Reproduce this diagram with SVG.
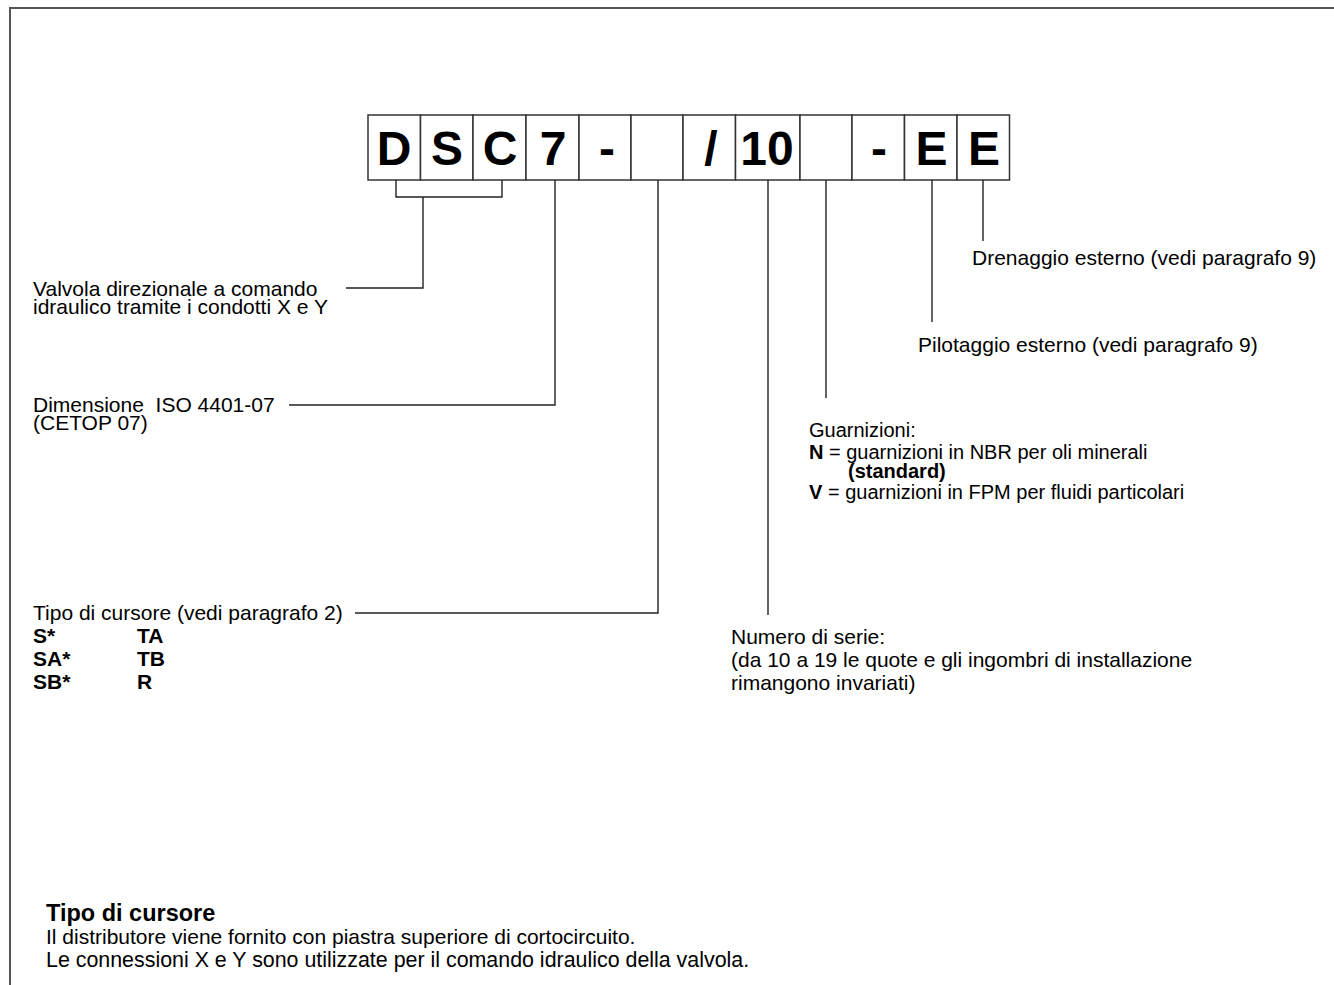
<svg xmlns="http://www.w3.org/2000/svg" width="1334" height="985" viewBox="0 0 1334 985">
<style>
.t{font-family:"Liberation Sans",Arial,sans-serif;font-size:21px;fill:#000}
.s20{font-size:20px}
.b{font-weight:bold}
.code{font-family:"Liberation Sans",Arial,sans-serif;font-size:48px;font-weight:bold;fill:#000;text-anchor:middle}
.box{fill:#fff;stroke:#333;stroke-width:1.5}
.ln{fill:none;stroke:#222;stroke-width:1.4}
.frame{fill:none;stroke:#555;stroke-width:2}
</style>
<rect width="1334" height="985" fill="#fff"/>
<path class="frame" d="M10,985 V8 H1334"/>
<g id="code">
<g id="box-D"><rect class="box" x="368" y="115" width="52.5" height="65"/><text class="code" x="394" y="165">D</text></g>
<g id="box-S"><rect class="box" x="420.5" y="115" width="52.5" height="65"/><text class="code" x="447" y="165">S</text></g>
<g id="box-C"><rect class="box" x="473" y="115" width="53" height="65"/><text class="code" x="500" y="165">C</text></g>
<g id="box-7"><rect class="box" x="526" y="115" width="53" height="65"/><text class="code" x="553" y="165">7</text></g>
<g id="box-dash1"><rect class="box" x="579" y="115" width="52" height="65"/><text class="code" x="607" y="165">-</text></g>
<g id="box-spool"><rect class="box" x="631" y="115" width="52" height="65"/></g>
<g id="box-slash"><rect class="box" x="683" y="115" width="52.5" height="65"/><text class="code" x="711" y="165">/</text></g>
<g id="box-10"><rect class="box" x="735.5" y="115" width="64.5" height="65"/><text class="code" x="767" y="165">10</text></g>
<g id="box-seal"><rect class="box" x="800" y="115" width="52" height="65"/></g>
<g id="box-dash2"><rect class="box" x="852" y="115" width="52.5" height="65"/><text class="code" x="879" y="165">-</text></g>
<g id="box-E1"><rect class="box" x="904.5" y="115" width="52.5" height="65"/><text class="code" x="931.5" y="165">E</text></g>
<g id="box-E2"><rect class="box" x="957" y="115" width="52.5" height="65"/><text class="code" x="984" y="165">E</text></g>
</g>
<g id="connectors">
<path class="ln" d="M396,180 V197 H502 V180"/>
<path class="ln" d="M423,197 V288 H346"/>
<path class="ln" d="M555,180 V405 H289"/>
<path class="ln" d="M658,180 V613 H355"/>
<path class="ln" d="M768,180 V615"/>
<path class="ln" d="M826,180 V398"/>
<path class="ln" d="M932,180 V322"/>
<path class="ln" d="M983,180 V241"/>
</g>
<g id="label-valvola">
<text class="t" x="33" y="296">Valvola direzionale a comando</text>
<text class="t" x="33" y="314">idraulico tramite i condotti X e Y</text>
</g>
<g id="label-dimensione">
<text class="t" x="33" y="412" xml:space="preserve">Dimensione  ISO 4401-07</text>
<text class="t" x="33" y="430">(CETOP 07)</text>
</g>
<g id="label-cursore">
<text class="t" x="33" y="620">Tipo di cursore (vedi paragrafo 2)</text>
<text class="t b" x="33" y="643">S*</text><text class="t b" x="137" y="643">TA</text>
<text class="t b" x="33" y="666">SA*</text><text class="t b" x="137" y="666">TB</text>
<text class="t b" x="33" y="689">SB*</text><text class="t b" x="137" y="689">R</text>
</g>
<g id="label-serie">
<text class="t" x="731" y="644">Numero di serie:</text>
<text class="t" x="731" y="667">(da 10 a 19 le quote e gli ingombri di installazione</text>
<text class="t" x="731" y="690">rimangono invariati)</text>
</g>
<g id="label-guarnizioni">
<text class="t s20" x="809" y="437">Guarnizioni:</text>
<text class="t s20" x="809" y="459"><tspan class="b">N</tspan> = guarnizioni in NBR per oli minerali</text>
<text class="t s20 b" x="848" y="478">(standard)</text>
<text class="t s20" x="809" y="499"><tspan class="b">V</tspan> = guarnizioni in FPM per fluidi particolari</text>
</g>
<g id="label-pilotaggio"><text class="t" x="918" y="352">Pilotaggio esterno (vedi paragrafo 9)</text></g>
<g id="label-drenaggio"><text class="t" x="972" y="265">Drenaggio esterno (vedi paragrafo 9)</text></g>
<g id="note">
<text class="t b" x="46" y="921" style="font-size:23.5px">Tipo di cursore</text>
<text class="t" x="46" y="944">Il distributore viene fornito con piastra superiore di cortocircuito.</text>
<text class="t" x="46" y="967" style="font-size:21.4px">Le connessioni X e Y sono utilizzate per il comando idraulico della valvola.</text>
</g>
</svg>
